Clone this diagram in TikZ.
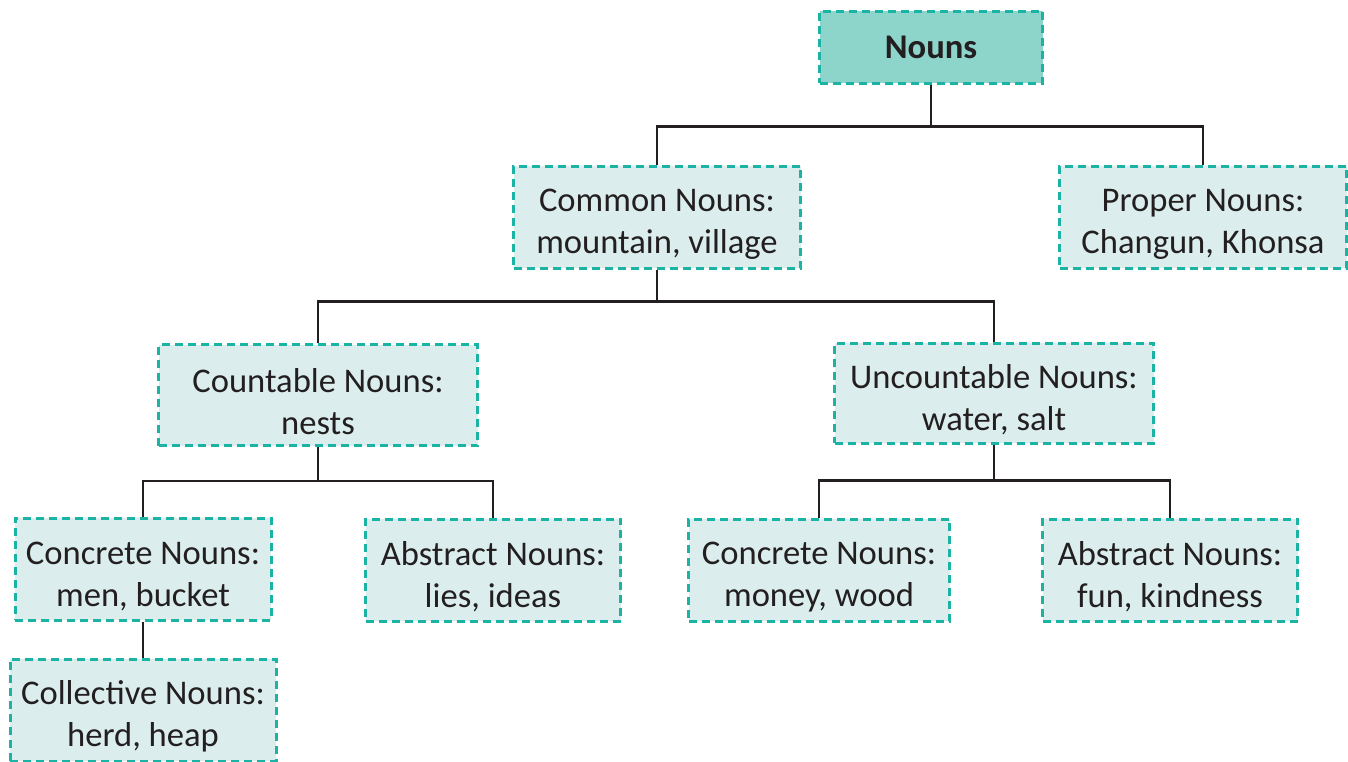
\documentclass[tikz,border=0pt]{standalone}
\usepackage{fontspec}
\setmainfont{Carlito}
\usetikzlibrary{positioning}
\definecolor{tealline}{HTML}{1BB3A3}
\definecolor{tealfill}{HTML}{DBEEED}
\definecolor{topfill}{HTML}{8DD4CB}
\definecolor{linkgray}{HTML}{231F20}
\newcommand{\lowtext}{\rule{0pt}{37pt}}

\begin{document}
\begin{tikzpicture}[x=1pt, y=-1pt,
    box/.style={draw=tealline, fill=tealfill, line width=3pt, dash pattern=on 8pt off 5pt,
        align=center, inner sep=0pt, font=\fontsize{34.6}{41.5}\selectfont, text=linkgray},
    link/.style={draw=linkgray, line width=2.3pt}]
    \useasboundingbox (0,0) rectangle (1348,761);
    \node[box, fill=topfill, minimum width=223pt, minimum height=72pt,
        font=\fontsize{34.6}{41.5}\selectfont\bfseries] (nouns) at (931, 47) {Nouns};
    \node[box, minimum width=287pt, minimum height=102pt] (common) at (657, 217) {\lowtext Common Nouns:\\mountain, village};
    \node[box, minimum width=287pt, minimum height=102pt] (proper) at (1203, 217) {\lowtext Proper Nouns:\\Changun, Khonsa};
    \node[box, minimum width=319pt, minimum height=101pt] (count) at (318, 395) {\lowtext Countable Nouns:\\nests};
    \node[box, minimum width=319pt, minimum height=100pt] (uncount) at (994, 393) {\lowtext Uncountable Nouns:\\water, salt};
    \node[box, minimum width=256pt, minimum height=102pt] (concreteA) at (143, 569) {\lowtext Concrete Nouns:\\men, bucket};
    \node[box, minimum width=255pt, minimum height=102pt] (abstractA) at (493, 570) {\lowtext Abstract Nouns:\\lies, ideas};
    \node[box, minimum width=261pt, minimum height=102pt] (concreteB) at (819, 570) {\lowtext Concrete Nouns:\\money, wood};
    \node[box, minimum width=255pt, minimum height=102pt] (abstractB) at (1170, 570) {\lowtext Abstract Nouns:\\fun, kindness};
    \node[box, minimum width=266pt, minimum height=102pt] (collect) at (143, 710) {\lowtext Collective Nouns:\\herd, heap};

    \draw[link] (nouns.south) -- ++(0,42) -| (common.north);
    \draw[link] (nouns.south) -- ++(0,42) -| (proper.north);
    \draw[link] (common.south) -- ++(0,32) -| (count.north);
    \draw[link] (common.south) -- ++(0,32) -| (uncount.north);
    \draw[link] (count.south) -- ++(0,34) -| (concreteA.north);
    \draw[link] (count.south) -- ++(0,34) -| (abstractA.north);
    \draw[link] (uncount.south) -- ++(0,36) -| (concreteB.north);
    \draw[link] (uncount.south) -- ++(0,36) -| (abstractB.north);
    \draw[link] (concreteA) -- (collect);
\end{tikzpicture}
\end{document}
